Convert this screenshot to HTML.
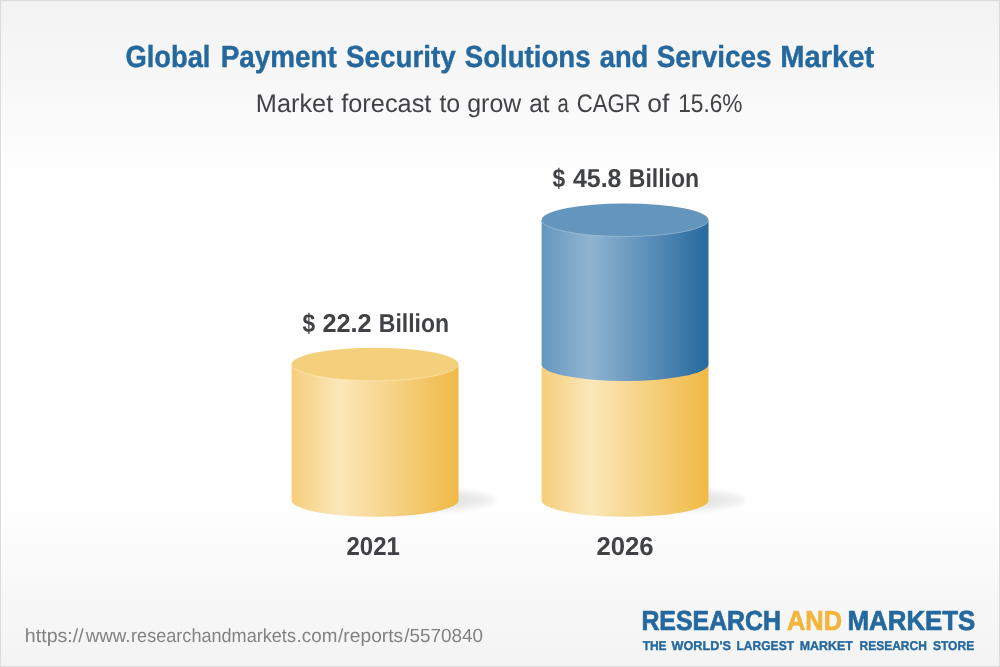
<!DOCTYPE html>
<html lang="en">
<head>
<meta charset="utf-8">
<title>Global Payment Security Solutions and Services Market</title>
<style>
  html, body { margin: 0; padding: 0; background: #ffffff; }
  body { width: 1000px; height: 667px; overflow: hidden; }
  svg { display: block; will-change: transform; }
  text { font-family: "Liberation Sans", sans-serif; text-rendering: geometricPrecision; }
  .b { font-weight: bold; }
</style>
</head>
<body>
<svg width="1000" height="667" viewBox="0 0 1000 667">
  <defs>
    <linearGradient id="bg" x1="0" y1="0" x2="0" y2="1">
      <stop offset="0" stop-color="#f2f2f2"/>
      <stop offset="0.28" stop-color="#ffffff"/>
      <stop offset="0.74" stop-color="#ffffff"/>
      <stop offset="1" stop-color="#f3f3f3"/>
    </linearGradient>
    <linearGradient id="gy" x1="0" y1="0" x2="1" y2="0">
      <stop offset="0" stop-color="#f5ce7a"/>
      <stop offset="0.29" stop-color="#fbe7ba"/>
      <stop offset="1" stop-color="#f0b944"/>
    </linearGradient>
    <linearGradient id="gb" x1="0" y1="0" x2="1" y2="0">
      <stop offset="0" stop-color="#6497bf"/>
      <stop offset="0.29" stop-color="#90b4d1"/>
      <stop offset="1" stop-color="#26699f"/>
    </linearGradient>
    <radialGradient id="sh" cx="0.5" cy="0.5" r="0.5">
      <stop offset="0" stop-color="#000" stop-opacity="0.17"/>
      <stop offset="1" stop-color="#000" stop-opacity="0.05"/>
    </radialGradient>
    <filter id="blur" x="-20%" y="-80%" width="140%" height="260%">
      <feGaussianBlur stdDeviation="2.6"/>
    </filter>
  </defs>

  <!-- background + border -->
  <rect x="0" y="0" width="1000" height="667" fill="url(#bg)"/>
  <rect x="0.5" y="0.5" width="999" height="666" fill="none" stroke="#dcdcdc" stroke-width="1"/>

  <!-- shadows -->
  <ellipse cx="415" cy="499.9" rx="80.5" ry="12.3" fill="url(#sh)" filter="url(#blur)"/>
  <ellipse cx="665" cy="499.9" rx="80.5" ry="12.3" fill="url(#sh)" filter="url(#blur)"/>

  <!-- cylinder 1 (2021) -->
  <path d="M291.6 364.25 L291.6 500.2 A83.45 16.6 0 0 0 458.5 500.2 L458.5 364.25 Z" fill="url(#gy)"/>
  <ellipse cx="375.05" cy="364.25" rx="83.45" ry="16.6" fill="#f5d07c"/>
  <path d="M291.6 364.25 A83.45 16.6 0 0 0 458.5 364.25" fill="none" stroke="#fdf0d2" stroke-opacity="0.6" stroke-width="0.8"/>

  <!-- cylinder 2 (2026) -->
  <path d="M541.6 364.3 L541.6 500.2 A83.45 16.6 0 0 0 708.5 500.2 L708.5 364.3 Z" fill="url(#gy)"/>
  <path d="M541.6 220 L541.6 364.3 A83.45 16.6 0 0 0 708.5 364.3 L708.5 220 Z" fill="url(#gb)"/>
  <ellipse cx="625.05" cy="220" rx="83.45" ry="16.5" fill="#6496bd"/>
  <path d="M541.6 220 A83.45 16.5 0 0 0 708.5 220" fill="none" stroke="#b9d0e3" stroke-opacity="0.6" stroke-width="0.8"/>

  <!-- headings -->
  <text class="b" y="66.8" font-size="30.5" fill="#24689e" stroke="#24689e" stroke-width="0.4"><tspan x="125.38" textLength="85.06" lengthAdjust="spacingAndGlyphs">Global</tspan> <tspan x="220.64" textLength="116.21" lengthAdjust="spacingAndGlyphs">Payment</tspan> <tspan x="346.10" textLength="109.55" lengthAdjust="spacingAndGlyphs">Security</tspan> <tspan x="464.70" textLength="125.93" lengthAdjust="spacingAndGlyphs">Solutions</tspan> <tspan x="599.70" textLength="48.60" lengthAdjust="spacingAndGlyphs">and</tspan> <tspan x="656.70" textLength="114.95" lengthAdjust="spacingAndGlyphs">Services</tspan> <tspan x="780.15" textLength="94.01" lengthAdjust="spacingAndGlyphs">Market</tspan></text>
  <text y="112" font-size="25.5" fill="#414246"><tspan x="255.82" textLength="77.36" lengthAdjust="spacingAndGlyphs">Market</tspan> <tspan x="341.24" textLength="90.14" lengthAdjust="spacingAndGlyphs">forecast</tspan> <tspan x="439.42" textLength="20.83" lengthAdjust="spacingAndGlyphs">to</tspan> <tspan x="467.25" textLength="53.98" lengthAdjust="spacingAndGlyphs">grow</tspan> <tspan x="529.27" textLength="20.31" lengthAdjust="spacingAndGlyphs">at</tspan> <tspan x="557.44" textLength="11.26" lengthAdjust="spacingAndGlyphs">a</tspan> <tspan x="576.78" textLength="63.95" lengthAdjust="spacingAndGlyphs">CAGR</tspan> <tspan x="647.19" textLength="22.07" lengthAdjust="spacingAndGlyphs">of</tspan> <tspan x="678.17" textLength="64.34" lengthAdjust="spacingAndGlyphs">15.6%</tspan></text>
  <text class="b" y="187" font-size="25.9" fill="#414246"><tspan x="552.40" textLength="12.62" lengthAdjust="spacingAndGlyphs">$</tspan> <tspan x="572.92" textLength="48.54" lengthAdjust="spacingAndGlyphs">45.8</tspan> <tspan x="628.76" textLength="70.37" lengthAdjust="spacingAndGlyphs">Billion</tspan></text>
  <text class="b" y="332" font-size="25.9" fill="#414246"><tspan x="302.40" textLength="12.62" lengthAdjust="spacingAndGlyphs">$</tspan> <tspan x="322.42" textLength="49.29" lengthAdjust="spacingAndGlyphs">22.2</tspan> <tspan x="378.76" textLength="70.37" lengthAdjust="spacingAndGlyphs">Billion</tspan></text>
  <text class="b" y="555" font-size="25.9" fill="#414246"><tspan x="346.47" textLength="53.40" lengthAdjust="spacingAndGlyphs">2021</tspan></text>
  <text class="b" y="555" font-size="25.9" fill="#414246"><tspan x="596.41" textLength="57.22" lengthAdjust="spacingAndGlyphs">2026</tspan></text>
  <text y="642" font-size="19" fill="#828282"><tspan x="24.84" textLength="58.86" lengthAdjust="spacingAndGlyphs">https://</tspan><tspan x="85.63" textLength="44.89" lengthAdjust="spacingAndGlyphs">www.</tspan><tspan x="131.10" textLength="164.85" lengthAdjust="spacingAndGlyphs">researchandmarkets</tspan><tspan x="296.58" textLength="40.76" lengthAdjust="spacingAndGlyphs">.com</tspan><tspan x="338.00" textLength="65.19" lengthAdjust="spacingAndGlyphs">/reports</tspan><tspan x="404.20" textLength="78.74" lengthAdjust="spacingAndGlyphs">/5570840</tspan></text>
  <text class="b" y="629.8" font-size="27.6" fill="#24689e" stroke="#24689e" stroke-width="0.7"><tspan x="641.39" textLength="139.64" lengthAdjust="spacingAndGlyphs">RESEARCH</tspan> <tspan x="787.02" textLength="55.00" lengthAdjust="spacingAndGlyphs" fill="#f2b53a" stroke="#f2b53a">AND</tspan> <tspan x="847.52" textLength="127.84" lengthAdjust="spacingAndGlyphs">MARKETS</tspan></text>
  <text class="b" y="649.6" font-size="12.8" fill="#24689e" stroke="#24689e" stroke-width="0.35"><tspan x="642.64" textLength="23.95" lengthAdjust="spacingAndGlyphs">THE</tspan> <tspan x="671.56" textLength="59.36" lengthAdjust="spacingAndGlyphs">WORLD'S</tspan> <tspan x="736.47" textLength="57.59" lengthAdjust="spacingAndGlyphs">LARGEST</tspan> <tspan x="799.64" textLength="53.22" lengthAdjust="spacingAndGlyphs">MARKET</tspan> <tspan x="859.57" textLength="67.26" lengthAdjust="spacingAndGlyphs">RESEARCH</tspan> <tspan x="932.93" textLength="41.27" lengthAdjust="spacingAndGlyphs">STORE</tspan></text>
</svg>
</body>
</html>
